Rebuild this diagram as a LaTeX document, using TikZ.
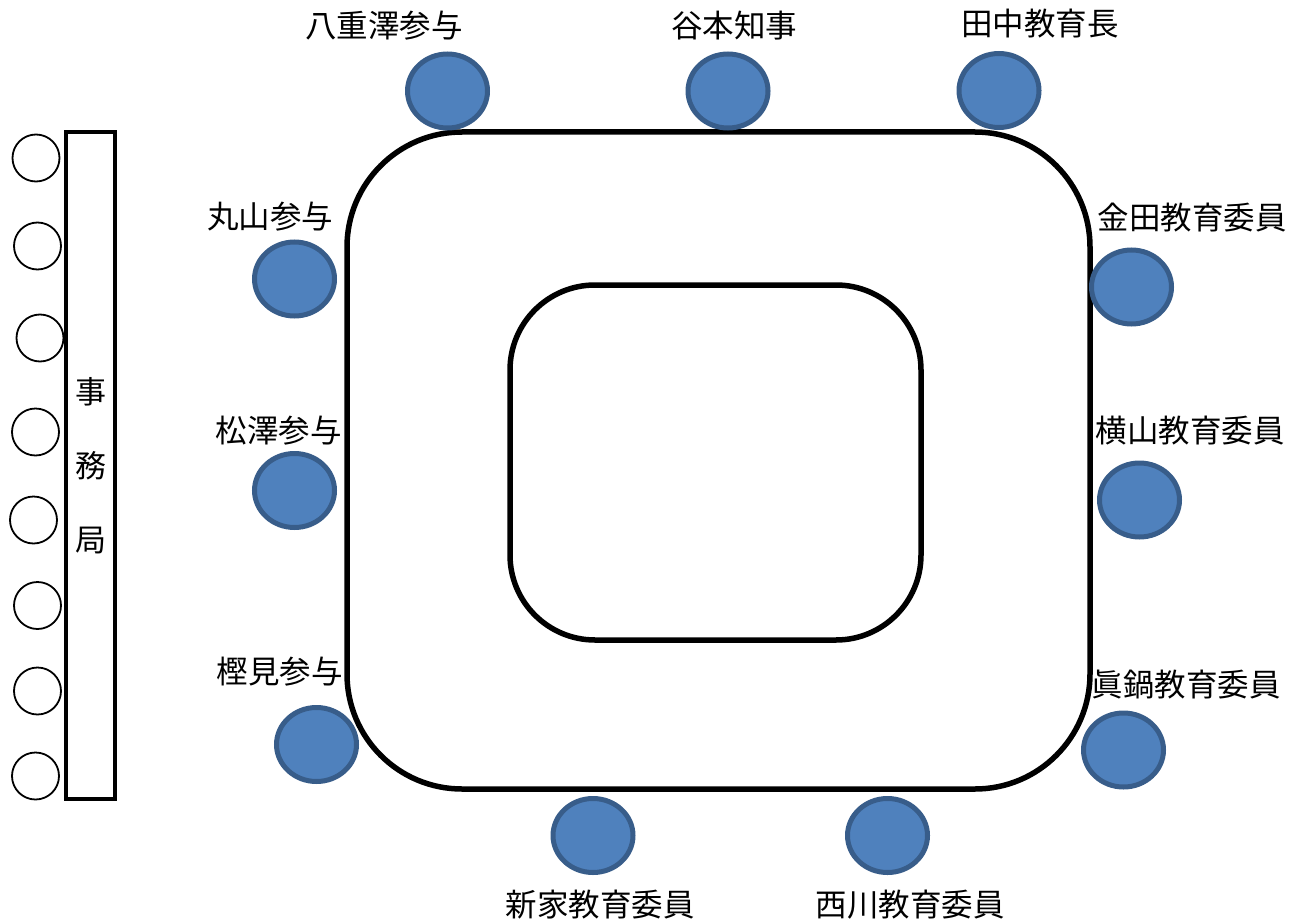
\documentclass[tikz,border=0pt]{standalone}
\usepackage{fontspec}
\newfontfamily\jp{Noto Sans CJK JP}
\usetikzlibrary{shapes.geometric}
\definecolor{seatfill}{HTML}{4F81BD}
\definecolor{seatline}{HTML}{385D8A}
\tikzset{
  seat/.style={ellipse, draw=seatline, fill=seatfill, line width=5pt, minimum width=80pt, minimum height=74pt, inner sep=0pt},
  staff/.style={ellipse, draw=black, fill=white, line width=1.8pt, minimum width=47pt, minimum height=47pt, inner sep=0pt},
  lbl/.style={font=\jp\fontsize{31.5}{31.5}\selectfont, inner sep=0pt, text=black},
  table/.style={draw=black, line width=5.5pt, inner sep=0pt},
}
\begin{document}
\begin{tikzpicture}[x=1pt,y=-1pt]
\useasboundingbox (0,0) rectangle (1306,923);
% tables
\node[table, rounded corners=115pt, minimum width=743pt, minimum height=657pt] (outer) at (718.5,460.5) {};
\node[table, rounded corners=85pt, minimum width=411pt, minimum height=355pt] (inner) at (715.5,462.5) {};
% secretariat
\node[draw=black, line width=3.5pt, minimum width=49pt, minimum height=667pt, inner sep=0pt] (desk) at (90.5,465.5) {};
\node[lbl, align=center, font=\jp\fontsize{31}{74}\selectfont] (jimu) at (90.5,466) {事\\務\\局};
\node[staff] (s1) at (36,158) {};
\node[staff] (s2) at (37.5,246) {};
\node[staff] (s3) at (40,338) {};
\node[staff] (s4) at (35.5,432) {};
\node[staff] (s5) at (33.5,520) {};
\node[staff] (s6) at (37.5,605.5) {};
\node[staff] (s7) at (37.5,691) {};
\node[staff] (s8) at (35.5,776) {};
% seats
\node[seat] (yaezawa) at (447.5,91) {};
\node[seat] (tanimoto) at (728,91) {};
\node[seat] (tanaka) at (999,90.5) {};
\node[seat] (maruyama) at (294.5,279) {};
\node[seat] (matsuzawa) at (294.5,490.5) {};
\node[seat] (kashimi) at (316.5,744.5) {};
\node[seat] (kaneda) at (1131.5,287) {};
\node[seat] (yokoyama) at (1139.5,500) {};
\node[seat] (manabe) at (1123.5,750) {};
\node[seat] (shinke) at (593,835.5) {};
\node[seat] (nishikawa) at (887.5,835.5) {};
% labels
\node[lbl] (l1) at (384,26) {八重澤参与};
\node[lbl] (l2) at (734,26) {谷本知事};
\node[lbl] (l3) at (1040,24) {田中教育長};
\node[lbl] (l4) at (270,217) {丸山参与};
\node[lbl] (l5) at (278.5,431) {松澤参与};
\node[lbl] (l6) at (279.5,672) {樫見参与};
\node[lbl] (l7) at (1192,218) {金田教育委員};
\node[lbl] (l8) at (1190,431) {横山教育委員};
\node[lbl] (l9) at (1186,685) {眞鍋教育委員};
\node[lbl] (l10) at (600,905) {新家教育委員};
\node[lbl] (l11) at (910,905) {西川教育委員};
\end{tikzpicture}
\end{document}
